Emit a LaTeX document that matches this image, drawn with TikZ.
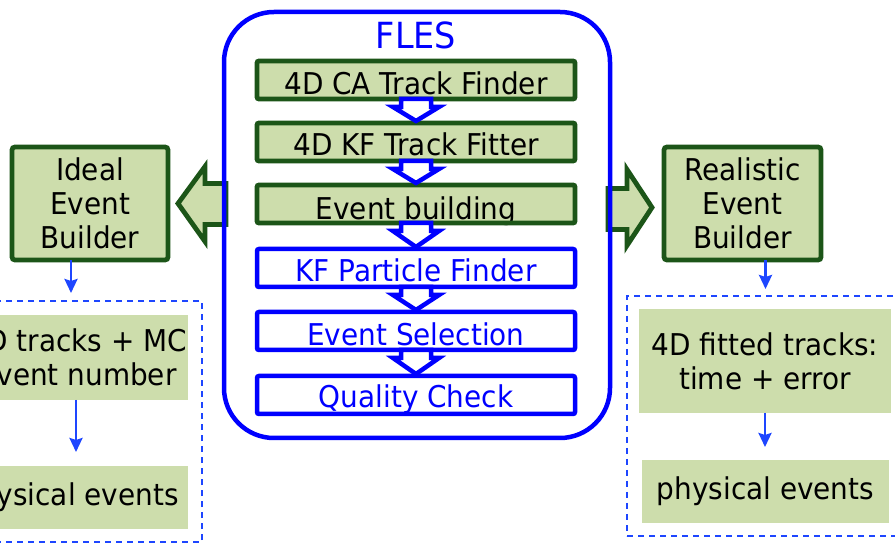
\documentclass[tikz,border=0pt]{standalone}
\usepackage{fontspec}
\setmainfont{DejaVu Sans}[FakeStretch=0.93]
\usetikzlibrary{calc,arrows.meta}

\definecolor{flesblue}{RGB}{0,0,255}
\definecolor{boxfill}{RGB}{205,221,172}
\definecolor{boxline}{RGB}{28,85,24}
\definecolor{dashblue}{RGB}{30,70,255}

% block arrow between two stacked stages
\newcommand\stackarrow[2]{%
  \draw[stackarr] ($(#1.south)+(-15,0)$) -- ++(0,8) -- ++(-8,0)
    -- ($(#2.north)+(0,-2)$) -- ($(#1.south)+(23,8)$) -- ++(-8,0) -- ++(0,-8) -- cycle;}

\begin{document}
\begin{tikzpicture}[x=1pt,y=-1pt,
  big/.style={font=\fontsize{30}{34}\selectfont},
  stagebox/.style={minimum width=318pt,minimum height=38pt,inner sep=0pt,outer sep=0pt},
  greenstage/.style={stagebox,fill=boxfill},
  bluestage/.style={stagebox,fill=white},
  greenborder/.style={draw=boxline,line width=4.8pt,rounded corners=2pt},
  blueborder/.style={draw=flesblue,line width=4.5pt,rounded corners=2pt},
  stagetext/.style={big,anchor=base,inner sep=0pt},
  stackarr/.style={draw=flesblue,fill=white,line width=4.5pt,line join=miter},
  sidearr/.style={draw=boxline,fill=boxfill,line width=4.8pt,line join=miter},
  builder/.style={big,draw=boxline,fill=boxfill,line width=4.8pt,rounded corners=3pt,
    align=center,inner sep=0pt,outer sep=0pt,minimum height=113pt},
  result/.style={big,fill=boxfill,align=center,inner sep=0pt,outer sep=0pt},
  dashbox/.style={draw=dashblue,line width=2.8pt,dash pattern=on 6pt off 5pt,
    minimum width=#1,inner sep=0pt,outer sep=0pt},
  smallarr/.style={draw=dashblue,line width=2.6pt,
    -{Stealth[length=14pt,width=13pt,inset=2pt]}}
]
\useasboundingbox (0,0) rectangle (895,545);
\clip (0,0) rectangle (895,545);

% event builders on both sides
\node[builder,minimum width=156pt] (ideal) at (90,203.5) {Ideal\\Event\\Builder};
\node[builder,minimum width=157pt] (real) at (742.5,203.5) {Realistic\\Event\\Builder};

% wide arrows leaving the FLES block
\draw[sidearr] ($(ideal.east)+(10,0)$) -- ++(27,-37) -- ++(0,17) -- ++(21,0)
  -- ++(0,41) -- ++(-21,0) -- ++(0,17) -- cycle;
\draw[sidearr] ($(real.west)+(-12,4)$) -- ++(-25,-38) -- ++(0,19) -- ++(-19,0)
  -- ++(0,41) -- ++(19,0) -- ++(0,16) -- cycle;

% FLES block
\node[draw=flesblue,line width=4.5pt,rounded corners=50pt,minimum width=386pt,
  minimum height=426pt,inner sep=0pt,outer sep=0pt] (fles) at (417,225) {};
\node[font=\fontsize{36}{40}\selectfont,text=flesblue,anchor=base,inner sep=0pt]
  (flestitle) at (416,49) {FLES};

% processing stages
\node[greenstage] (b1) at (416,80) {};
\node[greenstage] (b2) at (416,142) {};
\node[greenstage] (b3) at (416,204) {};
\node[bluestage] (b4) at (416,268) {};
\node[bluestage] (b5) at (416,331) {};
\node[bluestage] (b6) at (416,395) {};

\node[stagetext] (t1) at (416,95) {4D CA Track Finder};
\node[stagetext] (t2) at (416,156) {4D KF Track Fitter};
\node[stagetext] (t3) at (416,220) {Event building};
\node[stagetext,text=flesblue] (t4) at (416,282) {KF Particle Finder};
\node[stagetext,text=flesblue] (t5) at (416,346) {Event Selection};
\node[stagetext,text=flesblue] (t6) at (416,408) {Quality Check};

\foreach \b in {b1,b2,b3}
  \draw[greenborder] (\b.south west) rectangle (\b.north east);
\foreach \b in {b4,b5,b6}
  \draw[blueborder] (\b.south west) rectangle (\b.north east);

\stackarrow{b1}{b2}
\stackarrow{b2}{b3}
\stackarrow{b3}{b4}
\stackarrow{b4}{b5}
\stackarrow{b5}{b6}

% output of the ideal builder
\node[dashbox=262pt,minimum height=241pt] (lbox) at (71,421.5) {};
\node[result,minimum width=220pt,minimum height=85pt] (ltracks) at (78,357.5)
  {4D tracks + MC\\event number};
\node[result,minimum width=236pt,minimum height=63pt] (lphys) at (70,497.5)
  {physical events};

% output of the realistic builder
\node[dashbox=277pt,minimum height=240pt] (rbox) at (765.5,416) {};
\node[result,minimum width=252pt,minimum height=104pt] (rtracks) at (765,361)
  {4D fitted tracks:\\time + error};
\node[result,minimum width=247pt,minimum height=63pt] (rphys) at (765.5,491.5)
  {physical events};

% thin arrows
\draw[smallarr] (ideal.south -| lbox.north) -- ($(lbox.north)+(0,-8)$);
\draw[smallarr] (real.south -| rbox.north) -- ($(rbox.north)+(0,-7)$);
\draw[smallarr] ($(ltracks.south)+(-2,0)$) -- ($(ltracks.south |- lphys.north)+(-2,-14)$);
\draw[smallarr] (rtracks.south) -- ($(rtracks.south |- rphys.north)+(0,-13)$);
\end{tikzpicture}
\end{document}
